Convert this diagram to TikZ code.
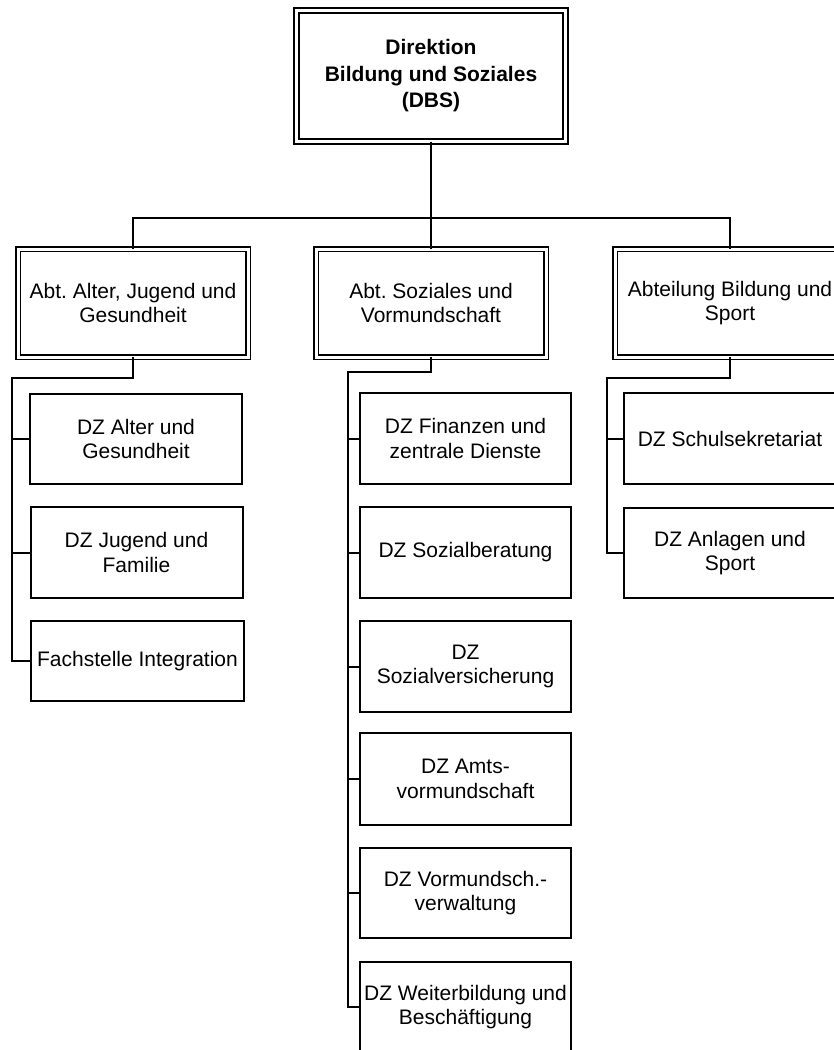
\documentclass[tikz,border=0pt]{standalone}
\usepackage{fontspec}
\setmainfont{Liberation Sans}
\frenchspacing
\begin{document}
\begin{tikzpicture}[x=1pt,y=-1pt,
  txt/.style={align=center,font=\fontsize{21}{24.5}\selectfont},
  unit/.style={txt,draw,line width=2pt,rectangle,inner sep=0pt,outer sep=0pt,minimum width=211pt,minimum height=91pt},
  abt/.style={txt,draw,line width=1.6pt,double=white,double distance=3pt,rectangle,inner sep=0pt,outer sep=0pt,minimum width=230pt,minimum height=108pt},
  head/.style={abt,font=\bfseries\fontsize{21}{26.5}\selectfont,minimum width=269pt,minimum height=131pt},
  conn/.style={line width=2pt},
  trunk/.style={line width=2.2pt},
  thicktrunk/.style={line width=2.8pt}]
\useasboundingbox (0,0) rectangle (834,1050);
\clip (0,0) rectangle (834,1050);
\fill[white] (0,0) rectangle (834,1050);

% head
\node[head] (dbs) at (431,76) {Direktion\\Bildung und Soziales\\(DBS)};

% departments
\node[abt] (a1) at (133,303) {Abt. Alter, Jugend und\\Gesundheit};
\node[abt] (a2) at (431,303) {Abt. Soziales und\\Vormundschaft};
\node[abt] (a3) at (730,303) {Abteilung Bildung und\\Sport};

% left units
\node[unit,minimum width=212pt,minimum height=90pt] (l1) at (136,439) {DZ Alter und\\Gesundheit};
\node[unit,minimum width=212pt] (l2) at (136.5,552.5) {DZ Jugend und\\Familie};
\node[unit,minimum width=213pt,minimum height=80pt] (l3) at (137.5,661) {Fachstelle Integration};

% middle units
\node[unit] (m1) at (465.5,438.5) {DZ Finanzen und\\zentrale Dienste};
\node[unit] (m2) at (465.5,552.5) {DZ Sozialberatung};
\node[unit] (m3) at (465.5,666.5) {DZ\\Sozialversicherung};
\node[unit,minimum height=92pt] (m4) at (465.5,779) {DZ Amts-\\vormundschaft};
\node[unit,minimum height=90pt] (m5) at (465.5,893) {DZ Vormundsch.-\\verwaltung};
\node[unit] (m6) at (465.5,1007) {DZ Weiterbildung und\\Besch\"aftigung};

% right units
\node[unit,minimum width=212pt] (r1) at (730,438.5) {DZ Schulsekretariat};
\node[unit,minimum width=212pt,minimum height=90pt] (r2) at (730,553) {DZ Anlagen und\\Sport};

% connector coordinates
\coordinate (bar) at (431,218);
\coordinate (lk) at (12,378);
\coordinate (mk) at (348,372);
\coordinate (rk) at (607,378);

% top connectors
\draw[trunk] (dbs.south) -- (bar);
\draw[conn] (a1.north) |- (bar) -| (a3.north);
\draw[conn] (bar) -- (a2.north);

% left branch
\draw[trunk] (a1.south) |- (lk) -- (lk |- l3.west) -- (l3.west);
\draw[conn] (lk |- l1.west) -- (l1.west);
\draw[conn] (lk |- l2.west) -- (l2.west);

% middle branch
\draw[thicktrunk] (a2.south) |- (mk) -- (mk |- m6.west) -- (m6.west);
\draw[conn] (mk |- m1.west) -- (m1.west);
\draw[conn] (mk |- m2.west) -- (m2.west);
\draw[conn] (mk |- m3.west) -- (m3.west);
\draw[conn] (mk |- m4.west) -- (m4.west);
\draw[conn] (mk |- m5.west) -- (m5.west);

% right branch
\draw[trunk] (a3.south) |- (rk) -- (rk |- r2.west) -- (r2.west);
\draw[conn] (rk |- r1.west) -- (r1.west);
\end{tikzpicture}
\end{document}
